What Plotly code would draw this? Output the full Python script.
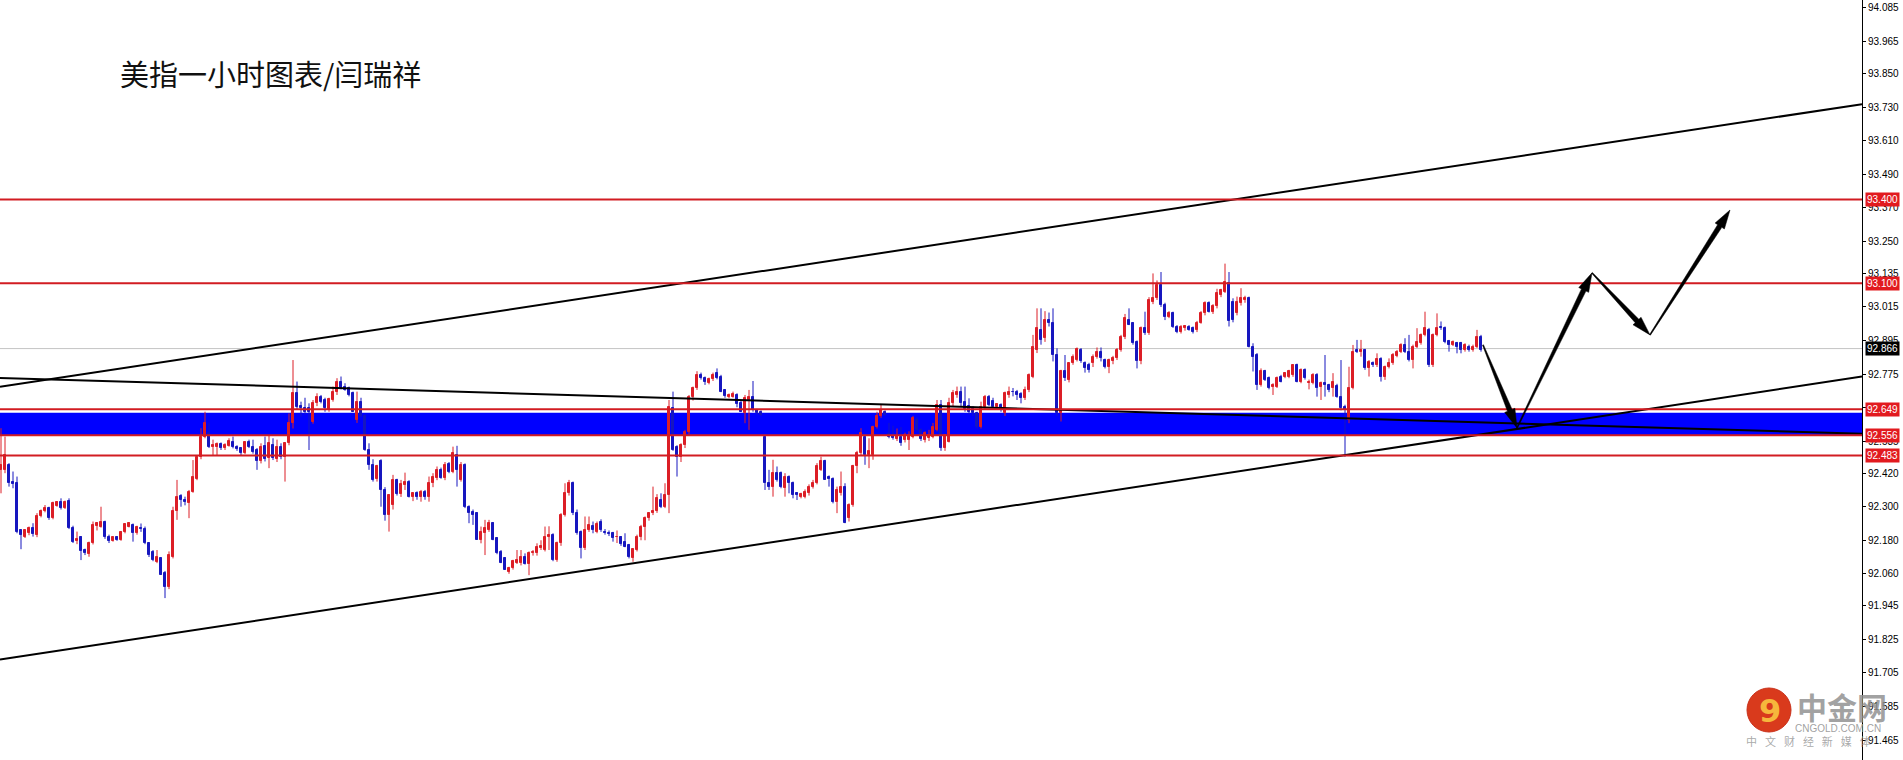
import plotly.graph_objects as go

# ---------------- data (hourly USD index candles) ----------------
opens = [
92.430, 92.432, 92.450, 92.390, 92.386, 92.215, 92.193, 92.205, 92.225, 92.199,
92.268, 92.285, 92.295, 92.259, 92.304, 92.316, 92.295, 92.320, 92.225, 92.178,
92.190, 92.145, 92.130, 92.170, 92.232, 92.228, 92.247, 92.193, 92.178, 92.190,
92.181, 92.208, 92.229, 92.235, 92.205, 92.224, 92.220, 92.169, 92.139, 92.103,
92.115, 92.062, 92.014, 92.121, 92.283, 92.338, 92.324, 92.312, 92.354, 92.400,
92.479, 92.551, 92.565, 92.515, 92.515, 92.525, 92.509, 92.518, 92.533, 92.515,
92.510, 92.491, 92.530, 92.515, 92.503, 92.462, 92.517, 92.473, 92.521, 92.470,
92.515, 92.479, 92.527, 92.599, 92.706, 92.662, 92.655, 92.652, 92.605, 92.670,
92.694, 92.682, 92.646, 92.682, 92.712, 92.748, 92.730, 92.724, 92.706, 92.612,
92.676, 92.625, 92.503, 92.450, 92.398, 92.462, 92.360, 92.271, 92.306, 92.396,
92.345, 92.378, 92.390, 92.334, 92.350, 92.336, 92.354, 92.336, 92.384, 92.402,
92.432, 92.402, 92.453, 92.426, 92.485, 92.396, 92.450, 92.300, 92.280, 92.277,
92.181, 92.205, 92.217, 92.241, 92.187, 92.139, 92.115, 92.068, 92.082, 92.100,
92.098, 92.121, 92.096, 92.133, 92.133, 92.151, 92.145, 92.190, 92.200, 92.109,
92.169, 92.271, 92.348, 92.384, 92.277, 92.211, 92.151, 92.217, 92.232, 92.211,
92.247, 92.211, 92.207, 92.205, 92.193, 92.190, 92.175, 92.163, 92.115, 92.145,
92.193, 92.229, 92.259, 92.277, 92.283, 92.324, 92.300, 92.342, 92.652, 92.515,
92.479, 92.521, 92.569, 92.694, 92.724, 92.772, 92.760, 92.742, 92.757, 92.778,
92.766, 92.718, 92.694, 92.694, 92.700, 92.670, 92.634, 92.682, 92.694, 92.646,
92.640, 92.551, 92.384, 92.372, 92.420, 92.420, 92.366, 92.408, 92.384, 92.348,
92.336, 92.336, 92.350, 92.370, 92.384, 92.432, 92.462, 92.408, 92.400, 92.318,
92.348, 92.372, 92.259, 92.306, 92.444, 92.491, 92.551, 92.485, 92.485, 92.587,
92.623, 92.640, 92.560, 92.552, 92.542, 92.551, 92.539, 92.539, 92.551, 92.610,
92.575, 92.539, 92.545, 92.551, 92.575, 92.664, 92.509, 92.533, 92.670, 92.700,
92.712, 92.676, 92.662, 92.650, 92.634, 92.587, 92.658, 92.694, 92.680, 92.658,
92.664, 92.634, 92.700, 92.710, 92.712, 92.704, 92.688, 92.718, 92.766, 92.861,
92.933, 92.903, 92.968, 92.957, 92.843, 92.634, 92.784, 92.753, 92.813, 92.825,
92.861, 92.813, 92.807, 92.813, 92.837, 92.855, 92.825, 92.801, 92.820, 92.831,
92.861, 92.909, 92.968, 92.957, 92.890, 92.820, 92.939, 92.921, 93.034, 93.046,
93.094, 93.022, 92.980, 92.992, 92.945, 92.927, 92.940, 92.945, 92.940, 92.933,
92.959, 92.992, 93.028, 92.998, 93.017, 93.058, 93.070, 93.100, 93.034, 92.992,
93.028, 93.040, 93.046, 92.873, 92.843, 92.736, 92.784, 92.760, 92.730, 92.730,
92.766, 92.766, 92.766, 92.772, 92.807, 92.748, 92.789, 92.742, 92.742, 92.772,
92.730, 92.742, 92.736, 92.724, 92.733, 92.694, 92.658, 92.611, 92.724, 92.861,
92.855, 92.861, 92.795, 92.813, 92.807, 92.828, 92.766, 92.801, 92.813, 92.840,
92.855, 92.879, 92.855, 92.825, 92.873, 92.885, 92.915, 92.933, 92.807, 92.915,
92.945, 92.939, 92.894, 92.879, 92.885, 92.885, 92.861, 92.873, 92.861, 92.873, 92.909,
]
highs = [
92.581, 92.551, 92.456, 92.426, 92.408, 92.218, 92.218, 92.229, 92.241, 92.277,
92.290, 92.306, 92.300, 92.318, 92.320, 92.330, 92.322, 92.330, 92.232, 92.211,
92.195, 92.150, 92.175, 92.247, 92.245, 92.300, 92.250, 92.200, 92.193, 92.195,
92.213, 92.240, 92.245, 92.240, 92.232, 92.240, 92.229, 92.172, 92.145, 92.145,
92.118, 92.070, 92.140, 92.300, 92.396, 92.345, 92.336, 92.360, 92.467, 92.485,
92.581, 92.640, 92.600, 92.540, 92.530, 92.530, 92.527, 92.545, 92.551, 92.520,
92.512, 92.533, 92.540, 92.540, 92.510, 92.527, 92.551, 92.557, 92.545, 92.540,
92.527, 92.530, 92.634, 92.825, 92.748, 92.676, 92.690, 92.670, 92.682, 92.706,
92.700, 92.690, 92.690, 92.730, 92.760, 92.766, 92.742, 92.730, 92.712, 92.712,
92.690, 92.630, 92.527, 92.470, 92.450, 92.470, 92.370, 92.345, 92.414, 92.400,
92.396, 92.422, 92.395, 92.350, 92.355, 92.360, 92.360, 92.408, 92.420, 92.444,
92.440, 92.460, 92.460, 92.515, 92.518, 92.460, 92.455, 92.305, 92.290, 92.280,
92.229, 92.253, 92.253, 92.245, 92.190, 92.145, 92.120, 92.085, 92.110, 92.145,
92.145, 92.133, 92.140, 92.145, 92.169, 92.180, 92.229, 92.230, 92.205, 92.175,
92.277, 92.384, 92.396, 92.390, 92.290, 92.215, 92.265, 92.265, 92.247, 92.247,
92.255, 92.220, 92.215, 92.210, 92.215, 92.195, 92.205, 92.167, 92.150, 92.200,
92.235, 92.265, 92.280, 92.372, 92.345, 92.348, 92.384, 92.682, 92.712, 92.520,
92.527, 92.575, 92.700, 92.730, 92.785, 92.780, 92.766, 92.762, 92.780, 92.795,
92.772, 92.720, 92.705, 92.712, 92.706, 92.680, 92.700, 92.718, 92.750, 92.650,
92.645, 92.555, 92.432, 92.468, 92.444, 92.426, 92.420, 92.412, 92.390, 92.352,
92.350, 92.362, 92.380, 92.396, 92.456, 92.479, 92.468, 92.412, 92.405, 92.372,
92.426, 92.384, 92.312, 92.450, 92.500, 92.581, 92.557, 92.545, 92.590, 92.640,
92.664, 92.645, 92.600, 92.590, 92.580, 92.585, 92.565, 92.570, 92.625, 92.620,
92.580, 92.570, 92.575, 92.600, 92.682, 92.682, 92.560, 92.690, 92.718, 92.730,
92.730, 92.730, 92.688, 92.660, 92.640, 92.676, 92.700, 92.700, 92.690, 92.670,
92.670, 92.712, 92.730, 92.725, 92.718, 92.710, 92.730, 92.777, 92.915, 93.010,
93.010, 93.000, 92.995, 93.010, 92.867, 92.790, 92.843, 92.815, 92.845, 92.870,
92.868, 92.820, 92.815, 92.845, 92.870, 92.870, 92.830, 92.830, 92.840, 92.868,
92.915, 92.990, 93.010, 92.960, 92.895, 92.945, 92.998, 93.050, 93.135, 93.110,
93.140, 93.030, 93.000, 92.998, 92.950, 92.950, 92.950, 92.950, 92.945, 92.965,
93.000, 93.035, 93.035, 93.025, 93.080, 93.080, 93.170, 93.140, 93.046, 93.052,
93.082, 93.055, 93.052, 92.885, 92.850, 92.795, 92.790, 92.766, 92.742, 92.766,
92.772, 92.780, 92.790, 92.810, 92.812, 92.795, 92.795, 92.755, 92.778, 92.778,
92.748, 92.843, 92.740, 92.778, 92.740, 92.825, 92.665, 92.801, 92.879, 92.897,
92.897, 92.865, 92.825, 92.820, 92.849, 92.835, 92.805, 92.831, 92.850, 92.861,
92.885, 92.903, 92.915, 92.880, 92.939, 92.920, 92.998, 92.940, 92.920, 92.992,
92.963, 92.945, 92.897, 92.895, 92.890, 92.890, 92.885, 92.880, 92.880, 92.933, 92.915,
]
lows = [
92.348, 92.420, 92.372, 92.366, 92.205, 92.148, 92.188, 92.198, 92.193, 92.191,
92.262, 92.280, 92.253, 92.255, 92.300, 92.290, 92.292, 92.220, 92.170, 92.166,
92.109, 92.127, 92.121, 92.165, 92.215, 92.225, 92.185, 92.170, 92.175, 92.178,
92.178, 92.205, 92.226, 92.175, 92.200, 92.210, 92.166, 92.120, 92.105, 92.098,
92.056, 91.973, 92.005, 92.115, 92.253, 92.300, 92.305, 92.259, 92.350, 92.395,
92.470, 92.545, 92.510, 92.485, 92.485, 92.503, 92.503, 92.515, 92.509, 92.500,
92.485, 92.488, 92.510, 92.490, 92.432, 92.455, 92.462, 92.438, 92.467, 92.460,
92.470, 92.390, 92.520, 92.580, 92.650, 92.622, 92.630, 92.503, 92.597, 92.660,
92.670, 92.640, 92.640, 92.676, 92.700, 92.720, 92.715, 92.695, 92.640, 92.600,
92.620, 92.500, 92.432, 92.390, 92.390, 92.300, 92.250, 92.211, 92.290, 92.340,
92.335, 92.360, 92.333, 92.320, 92.325, 92.318, 92.325, 92.318, 92.370, 92.395,
92.400, 92.395, 92.420, 92.420, 92.372, 92.390, 92.295, 92.241, 92.235, 92.181,
92.169, 92.127, 92.210, 92.180, 92.130, 92.098, 92.074, 92.060, 92.075, 92.095,
92.090, 92.093, 92.055, 92.125, 92.125, 92.145, 92.140, 92.145, 92.105, 92.103,
92.160, 92.265, 92.340, 92.270, 92.200, 92.115, 92.145, 92.210, 92.205, 92.205,
92.210, 92.200, 92.195, 92.175, 92.170, 92.160, 92.155, 92.115, 92.103, 92.140,
92.180, 92.180, 92.250, 92.270, 92.278, 92.295, 92.295, 92.277, 92.500, 92.408,
92.460, 92.510, 92.560, 92.680, 92.718, 92.755, 92.736, 92.738, 92.750, 92.756,
92.710, 92.690, 92.688, 92.690, 92.656, 92.640, 92.599, 92.575, 92.640, 92.630,
92.625, 92.360, 92.360, 92.336, 92.390, 92.366, 92.336, 92.348, 92.330, 92.324,
92.330, 92.330, 92.340, 92.365, 92.380, 92.428, 92.396, 92.372, 92.312, 92.277,
92.340, 92.241, 92.247, 92.300, 92.420, 92.485, 92.450, 92.438, 92.468, 92.580,
92.618, 92.625, 92.545, 92.540, 92.535, 92.518, 92.530, 92.503, 92.545, 92.570,
92.535, 92.530, 92.535, 92.545, 92.570, 92.500, 92.500, 92.530, 92.660, 92.690,
92.660, 92.640, 92.630, 92.625, 92.580, 92.580, 92.650, 92.660, 92.655, 92.650,
92.640, 92.625, 92.690, 92.695, 92.682, 92.670, 92.682, 92.710, 92.760, 92.850,
92.880, 92.890, 92.945, 92.820, 92.625, 92.605, 92.750, 92.745, 92.808, 92.820,
92.815, 92.780, 92.780, 92.800, 92.830, 92.820, 92.795, 92.778, 92.810, 92.825,
92.855, 92.900, 92.950, 92.880, 92.795, 92.810, 92.915, 92.915, 93.025, 93.040,
93.015, 92.968, 92.975, 92.940, 92.921, 92.920, 92.930, 92.930, 92.920, 92.925,
92.955, 92.985, 92.995, 92.990, 93.010, 93.050, 93.065, 92.945, 92.960, 92.985,
93.020, 93.030, 92.870, 92.784, 92.718, 92.730, 92.750, 92.720, 92.700, 92.725,
92.745, 92.760, 92.760, 92.765, 92.745, 92.742, 92.755, 92.720, 92.738, 92.694,
92.682, 92.694, 92.710, 92.694, 92.690, 92.645, 92.479, 92.599, 92.720, 92.850,
92.837, 92.790, 92.766, 92.800, 92.800, 92.748, 92.754, 92.795, 92.808, 92.835,
92.850, 92.850, 92.820, 92.795, 92.868, 92.880, 92.910, 92.800, 92.800, 92.910,
92.933, 92.885, 92.855, 92.875, 92.849, 92.849, 92.855, 92.855, 92.855, 92.868, 92.855,
]
closes = [
92.450, 92.485, 92.384, 92.382, 92.211, 92.200, 92.217, 92.223, 92.201, 92.268,
92.285, 92.295, 92.259, 92.312, 92.316, 92.295, 92.318, 92.225, 92.175, 92.184,
92.143, 92.133, 92.170, 92.235, 92.240, 92.245, 92.191, 92.178, 92.190, 92.181,
92.211, 92.237, 92.241, 92.205, 92.226, 92.222, 92.169, 92.127, 92.109, 92.121,
92.056, 92.014, 92.127, 92.283, 92.336, 92.324, 92.316, 92.354, 92.408, 92.479,
92.551, 92.599, 92.515, 92.521, 92.525, 92.509, 92.521, 92.536, 92.515, 92.507,
92.491, 92.530, 92.515, 92.497, 92.462, 92.515, 92.470, 92.527, 92.473, 92.515,
92.479, 92.527, 92.599, 92.706, 92.658, 92.652, 92.640, 92.640, 92.670, 92.694,
92.676, 92.652, 92.685, 92.712, 92.748, 92.724, 92.718, 92.700, 92.640, 92.676,
92.625, 92.503, 92.450, 92.396, 92.444, 92.360, 92.271, 92.342, 92.396, 92.345,
92.381, 92.390, 92.334, 92.350, 92.336, 92.354, 92.336, 92.384, 92.408, 92.432,
92.402, 92.450, 92.426, 92.491, 92.432, 92.450, 92.300, 92.277, 92.272, 92.181,
92.211, 92.223, 92.241, 92.181, 92.133, 92.098, 92.074, 92.082, 92.105, 92.110,
92.121, 92.096, 92.133, 92.139, 92.157, 92.160, 92.193, 92.200, 92.109, 92.169,
92.271, 92.348, 92.384, 92.277, 92.205, 92.151, 92.217, 92.235, 92.217, 92.238,
92.217, 92.205, 92.203, 92.187, 92.193, 92.167, 92.157, 92.121, 92.148, 92.193,
92.229, 92.259, 92.277, 92.283, 92.333, 92.300, 92.342, 92.658, 92.503, 92.479,
92.521, 92.569, 92.694, 92.724, 92.772, 92.760, 92.748, 92.757, 92.772, 92.760,
92.712, 92.697, 92.700, 92.702, 92.667, 92.640, 92.688, 92.694, 92.646, 92.637,
92.630, 92.384, 92.372, 92.420, 92.396, 92.372, 92.408, 92.384, 92.342, 92.342,
92.345, 92.354, 92.372, 92.384, 92.444, 92.462, 92.396, 92.400, 92.318, 92.360,
92.372, 92.241, 92.306, 92.444, 92.491, 92.563, 92.485, 92.500, 92.587, 92.623,
92.646, 92.630, 92.549, 92.545, 92.552, 92.527, 92.557, 92.557, 92.617, 92.575,
92.541, 92.563, 92.557, 92.587, 92.664, 92.509, 92.557, 92.670, 92.706, 92.712,
92.670, 92.650, 92.640, 92.634, 92.587, 92.658, 92.694, 92.664, 92.658, 92.668,
92.646, 92.706, 92.712, 92.709, 92.700, 92.688, 92.718, 92.772, 92.873, 92.939,
92.897, 92.968, 92.957, 92.843, 92.634, 92.784, 92.760, 92.813, 92.837, 92.864,
92.820, 92.795, 92.790, 92.837, 92.855, 92.831, 92.801, 92.825, 92.831, 92.861,
92.909, 92.975, 92.950, 92.885, 92.820, 92.939, 92.921, 93.040, 93.046, 93.094,
93.022, 92.980, 92.992, 92.945, 92.927, 92.945, 92.948, 92.933, 92.927, 92.959,
92.992, 93.028, 92.998, 93.017, 93.064, 93.076, 93.106, 92.963, 92.968, 93.034,
93.046, 93.046, 92.873, 92.837, 92.736, 92.784, 92.754, 92.724, 92.736, 92.760,
92.748, 92.778, 92.784, 92.807, 92.748, 92.789, 92.760, 92.748, 92.772, 92.724,
92.742, 92.736, 92.718, 92.748, 92.694, 92.652, 92.646, 92.724, 92.855, 92.855,
92.861, 92.795, 92.819, 92.807, 92.828, 92.766, 92.801, 92.813, 92.843, 92.855,
92.879, 92.855, 92.825, 92.873, 92.891, 92.915, 92.939, 92.807, 92.915, 92.939,
92.939, 92.891, 92.879, 92.891, 92.873, 92.861, 92.879, 92.861, 92.873, 92.909, 92.861,
]

# horizontal levels (price)
red_levels = [93.400, 93.100, 92.649, 92.556, 92.483]
band_low, band_high = 92.556, 92.636
bid_price = 92.866
tag_levels = [93.400, 93.100, 92.649, 92.556, 92.483]

# trend lines: two anchor points each (candle index, price)
upper_channel = ([0, 300], [92.7295, 93.3817])
lower_channel = ([0, 300], [91.7535, 92.4063])
falling_line = ([0, 300], [92.7609, 92.6320])

# projected path (candle index, price)
path_x = [370.5, 379.0, 397.75, 412.25, 432.25]
path_y = [92.879, 92.582, 93.137, 92.915, 93.362]

tick_vals = [94.085, 93.965, 93.850, 93.730, 93.610, 93.490, 93.370, 93.250, 93.135,
             93.015, 92.895, 92.775, 92.655, 92.535, 92.420, 92.300, 92.180, 92.060,
             91.945, 91.825, 91.705, 91.585, 91.465]
tick_text = ["%.3f" % v for v in tick_vals]

title_text = "美指一小时图表/闫瑞祥"

# ---------------- layout constants ----------------
W, H = 1903, 760
ML, MR, MT, MB = 0, 41, 0, 0
PW, PH = W - ML - MR, H - MT - MB
X0, X1 = -0.25, 465.25
Y0, Y1 = 91.3935, 94.1136

RED = "#DC1E26"
BLUE = "#1717BF"
LINE_RED = "#D21C22"

assert len(opens) == len(highs) == len(lows) == len(closes), (len(opens), len(highs), len(lows), len(closes))
n = len(closes)

fig = go.Figure()

# bodies and wicks
for up, col in ((True, RED), (False, BLUE)):
    xs, base, hgt, wx, wy = [], [], [], [], []
    for i in range(n):
        o, h, l, c = opens[i], highs[i], lows[i], closes[i]
        if (c >= o) != up:
            continue
        xs.append(i)
        base.append(min(o, c))
        hgt.append(abs(c - o))
        wx += [i, i, None]
        wy += [l, h, None]
    fig.add_trace(go.Scatter(x=wx, y=wy, mode="lines", line=dict(color=col, width=1),
                             hoverinfo="skip", showlegend=False))
    fig.add_trace(go.Bar(x=xs, y=hgt, base=base, width=0.6,
                         marker=dict(color=col, line=dict(color=col, width=1)),
                         hoverinfo="skip", showlegend=False))

# trend lines extended across the chart
def extend(line):
    (xa, xb), (ya, yb) = line
    s = (yb - ya) / (xb - xa)
    return [X0, X1], [ya + s * (X0 - xa), ya + s * (X1 - xa)]

for ln in (upper_channel, lower_channel, falling_line):
    lx, ly = extend(ln)
    fig.add_trace(go.Scatter(x=lx, y=ly, mode="lines", line=dict(color="black", width=2),
                             hoverinfo="skip", showlegend=False))

shapes = []
# support band (background)
shapes.append(dict(type="rect", xref="paper", x0=0, x1=1, yref="y", y0=band_low, y1=band_high,
                   fillcolor="#0000FF", line=dict(width=0), layer="below"))
# bid line
shapes.append(dict(type="line", xref="paper", x0=0, x1=1, yref="y", y0=bid_price, y1=bid_price,
                   line=dict(color="#C4C4C4", width=1), layer="below"))
for lv in red_levels:
    shapes.append(dict(type="line", xref="paper", x0=0, x1=1, yref="y", y0=lv, y1=lv,
                       line=dict(color=LINE_RED, width=2)))

# tapered arrows along the projected path
def to_px(x, y):
    return ((x - X0) / (X1 - X0) * PW, (Y1 - y) / (Y1 - Y0) * PH)

def to_data(px, py):
    return (X0 + px / PW * (X1 - X0), Y1 - py / PH * (Y1 - Y0))

for k in range(len(path_x) - 1):
    ax, ay = to_px(path_x[k], path_y[k])
    bx, by = to_px(path_x[k + 1], path_y[k + 1])
    dx, dy = bx - ax, by - ay
    L = (dx * dx + dy * dy) ** 0.5
    ux, uy = dx / L, dy / L
    nx, ny = -uy, ux
    hl, hh, w1, w0 = 19.0, 5.5, 2.5, 0.5
    hx, hy = bx - ux * hl, by - uy * hl
    pts = [(ax + nx * w0, ay + ny * w0), (hx + nx * w1, hy + ny * w1), (hx + nx * hh, hy + ny * hh),
           (bx, by), (hx - nx * hh, hy - ny * hh), (hx - nx * w1, hy - ny * w1),
           (ax - nx * w0, ay - ny * w0)]
    dpts = [to_data(px, py) for px, py in pts]
    path = "M " + " L ".join("%.4f,%.5f" % p for p in dpts) + " Z"
    shapes.append(dict(type="path", xref="x", yref="y", path=path,
                       fillcolor="black", line=dict(color="black", width=0.5)))

# watermark logo circle
cx, cy, r = 1769, 710, 22
shapes.append(dict(type="circle", xref="paper", yref="paper",
                   x0=(cx - r) / PW, x1=(cx + r) / PW, y0=1 - (cy + r) / PH, y1=1 - (cy - r) / PH,
                   fillcolor="#D93A1C", line=dict(color="#C9301A", width=1)))

annotations = []
annotations.append(dict(text=title_text, xref="paper", yref="paper", x=118 / PW, y=1 - 73 / PH,
                        xanchor="left", yanchor="middle", showarrow=False,
                        font=dict(family="Noto Sans CJK SC", size=29, color="#111111")))

for lv in tag_levels:
    annotations.append(dict(text="%.3f" % lv, xref="paper", yref="y", x=1.0, y=lv, xshift=3,
                            xanchor="left", yanchor="middle", showarrow=False,
                            bgcolor="#E21A1F", borderpad=1,
                            font=dict(family="Liberation Sans", size=10, color="white")))
annotations.append(dict(text="%.3f" % bid_price, xref="paper", yref="y", x=1.0, y=bid_price, xshift=3,
                        xanchor="left", yanchor="middle", showarrow=False,
                        bgcolor="#000000", borderpad=1,
                        font=dict(family="Liberation Sans", size=10, color="white")))

# watermark texts
annotations.append(dict(text="<b>9</b>", xref="paper", yref="paper", x=1770 / PW, y=1 - 711 / PH,
                        xanchor="center", yanchor="middle", showarrow=False,
                        font=dict(family="DejaVu Sans", size=32, color="#F6B73C")))
annotations.append(dict(text="<b>中金网</b>", xref="paper", yref="paper", x=1842 / PW, y=1 - 706 / PH,
                        xanchor="center", yanchor="middle", showarrow=False,
                        font=dict(family="Noto Sans CJK SC", size=30, color="rgba(145,145,145,0.85)")))
annotations.append(dict(text="CNGOLD.COM.CN", xref="paper", yref="paper", x=1838 / PW, y=1 - 728 / PH,
                        xanchor="center", yanchor="middle", showarrow=False,
                        font=dict(family="Liberation Sans", size=10, color="rgba(150,150,150,0.9)")))
annotations.append(dict(text="\u2002 ".join("中文财经新媒体"), xref="paper", yref="paper",
                        x=1808 / PW, y=1 - 741 / PH, xanchor="center", yanchor="middle", showarrow=False,
                        font=dict(family="Noto Sans CJK SC", size=11, color="rgba(160,160,160,0.9)")))

fig.update_layout(
    width=W, height=H, autosize=False,
    margin=dict(l=ML, r=MR, t=MT, b=MB, pad=0),
    paper_bgcolor="white", plot_bgcolor="white",
    showlegend=False, barmode="overlay", bargap=0,
    xaxis=dict(visible=False, range=[X0, X1], fixedrange=True),
    yaxis=dict(side="right", range=[Y0, Y1], tickmode="array", tickvals=tick_vals, ticktext=tick_text,
               showgrid=False, zeroline=False, showline=True, linecolor="black", linewidth=1,
               ticks="outside", ticklen=3, tickcolor="black", tickwidth=1,
               tickfont=dict(family="Liberation Sans", size=10, color="black"), fixedrange=True),
    shapes=shapes, annotations=annotations,
)

fig.write_html("out.html", config={"displayModeBar": False},
               post_script="document.body.style.margin='0';document.body.style.overflow='hidden';")
